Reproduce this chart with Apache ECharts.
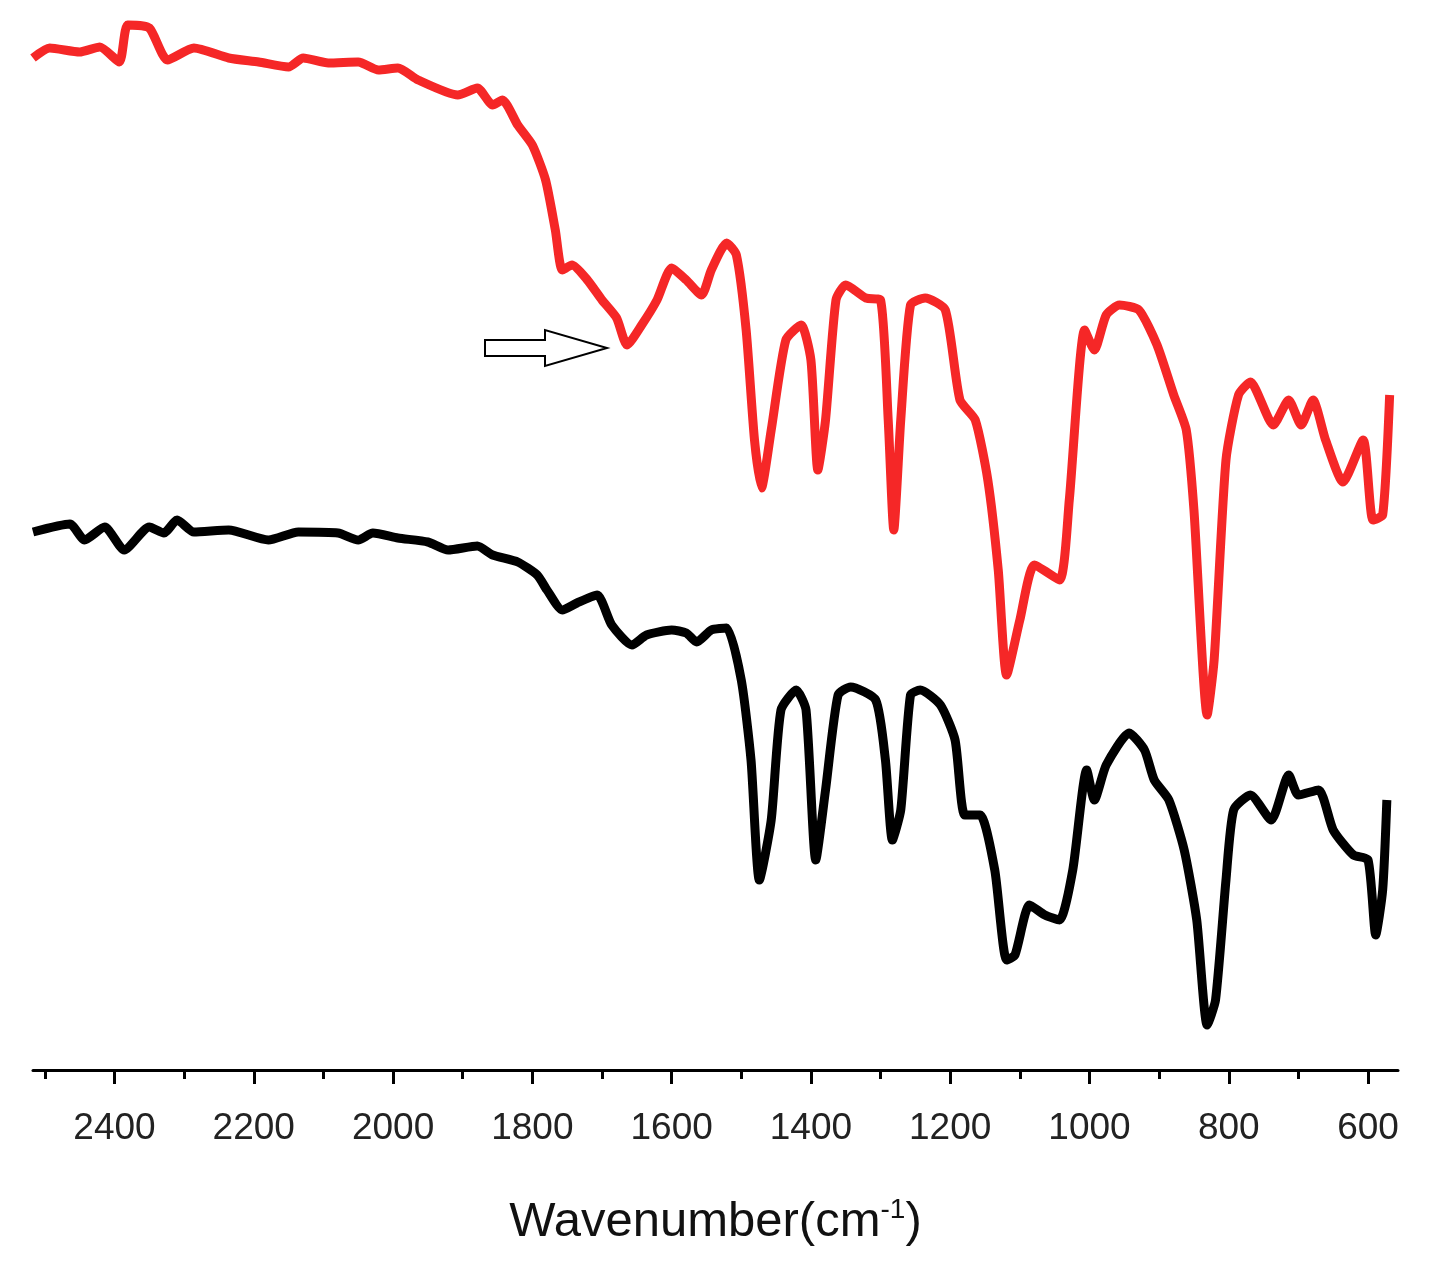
<!DOCTYPE html>
<html>
<head>
<meta charset="utf-8">
<script src="https://cdn.jsdelivr.net/npm/echarts@6/dist/echarts.min.js"></script>
<style>html,body{margin:0;background:#fff}#main{width:1432px;height:1279px}</style>
</head>
<body>
<div id="main"></div>
<script>
// wavenumber (cm-1) and relative transmittance (arbitrary units, offset traces)
const redWave = [2517,2493,2450,2421,2393,2381,2350,2324,2286,2236,2193,2150,2129,2093,2050,2021,1993,1964,1907,1879,1857,1843,1821,1800,1781,1767,1757,1743,1721,1700,1679,1664,1643,1621,1600,1579,1557,1543,1521,1507,1493,1481,1471,1457,1436,1414,1400,1390,1379,1364,1350,1321,1300,1289,1281,1271,1257,1236,1207,1186,1164,1146,1131,1119,1100,1079,1043,1029,1007,993,976,957,929,903,879,861,850,831,821,804,786,769,736,714,696,679,661,636,607,593,579,569];
const redVal = [1012,1022,1018,1023,1008,1045,1042,1010,1022,1012,1008,1003,1012,1007,1008,1000,1002,990,975,982,965,970,945,925,890,840,800,805,790,770,752,725,745,770,802,790,775,800,827,815,740,630,582,640,730,745,710,600,650,770,785,772,770,650,540,650,765,772,760,670,650,590,500,395,450,505,490,570,740,720,755,765,760,725,675,640,560,355,410,610,675,688,645,670,645,670,630,588,630,550,555,675];
const blackWave = [2517,2464,2443,2414,2386,2350,2329,2310,2286,2236,2179,2136,2079,2050,2029,1993,1950,1921,1879,1857,1821,1793,1779,1757,1736,1707,1686,1657,1636,1600,1579,1564,1543,1521,1500,1486,1474,1457,1443,1421,1407,1393,1379,1361,1343,1307,1293,1283,1271,1257,1243,1214,1193,1179,1157,1136,1119,1107,1086,1064,1043,1024,1004,993,976,943,921,907,886,864,846,831,819,804,793,769,739,714,700,671,650,621,600,589,579,573];
const blackVal = [538,546,530,543,520,543,537,550,538,540,530,538,537,530,537,532,528,520,524,515,508,495,480,460,467,475,445,425,435,440,437,428,440,442,390,310,190,250,360,380,360,210,280,375,383,370,310,230,260,375,380,365,330,255,255,200,110,115,165,155,150,200,300,270,305,337,320,290,270,220,150,45,70,190,260,275,250,295,275,280,240,215,210,135,180,270];
const majorTicks = [2400,2200,2000,1800,1600,1400,1200,1000,800,600];
const minorTicks = [2500,2300,2100,1900,1700,1500,1300,1100,900,700];

const pair = (w, v) => w.map((x, i) => [x, v[i]]);
const chart = echarts.init(document.getElementById('main'));
const baseX = {
  type: 'value', min: 557, max: 2517, inverse: true,
  position: 'bottom', splitLine: { show: false }
};
chart.setOption({
  animation: false,
  grid: { left: 33, right: 34, top: 0, bottom: 209 },
  xAxis: [
    Object.assign({}, baseX, {
      axisLine: { show: true, lineStyle: { color: '#000', width: 3 } },
      axisTick: { show: true, customValues: majorTicks, length: 14, lineStyle: { color: '#000', width: 3 } },
      axisLabel: { customValues: majorTicks, margin: 40, fontSize: 37, color: '#222',
        fontFamily: 'Arial, Liberation Sans', formatter: v => String(v) },
      name: 'Wavenumber(cm{sup|-1})', nameLocation: 'middle', nameGap: 126,
      nameTextStyle: { fontSize: 49, color: '#111', fontFamily: 'Arial, Liberation Sans',
        rich: { sup: { fontSize: 28, verticalAlign: 'top', padding: [0, 0, 24, 0], color: '#111' } } }
    }),
    Object.assign({}, baseX, {
      axisLine: { show: false },
      axisTick: { show: true, customValues: minorTicks, length: 9, lineStyle: { color: '#000', width: 3 } },
      axisLabel: { show: false }
    })
  ],
  yAxis: { type: 'value', min: 0, max: 1070, show: false },
  series: [
    { type: 'line', data: pair(redWave, redVal), showSymbol: false, smooth: 0.2,
      lineStyle: { color: '#f52727', width: 9 } },
    { type: 'line', data: pair(blackWave, blackVal), showSymbol: false, smooth: 0.2,
      lineStyle: { color: '#000', width: 9 } }
  ],
  graphic: [{
    type: 'polygon',
    shape: { points: [[485,340],[545,340],[545,330],[607,348],[545,366],[545,356],[485,356]] },
    style: { fill: '#fff', stroke: '#000', lineWidth: 2 }
  }]
});
</script>
</body>
</html>
